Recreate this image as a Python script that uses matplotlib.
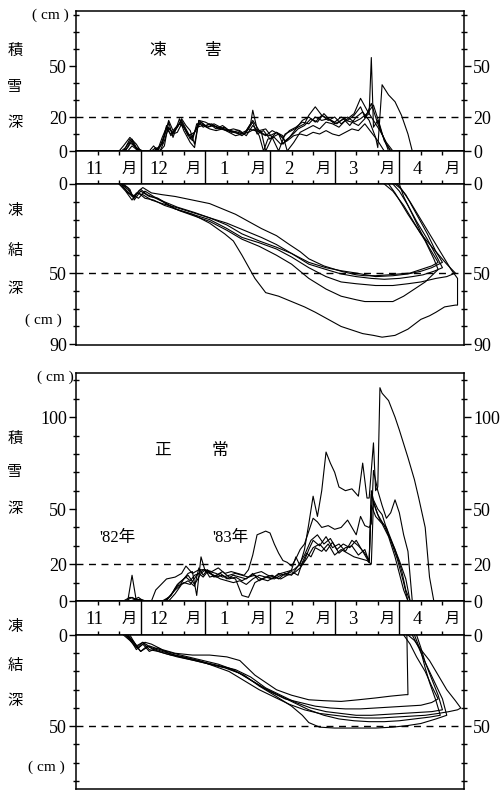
import numpy as np
import matplotlib.pyplot as plt

plt.rcParams['font.family'] = ['Liberation Serif', 'Noto Sans CJK JP']

# x axis: days from 1 Nov, each month drawn as 30 days (3 decades)
months = ['11', '12', '1', '2', '3', '4']

# ---- 凍害 (frost damage) : snow depth, cm ----
snow_harm_days = [
    [0, 20, 22, 25, 28, 30, 34, 36, 38, 40, 42, 44, 46, 49, 51, 54, 56, 58, 61, 64, 67, 70, 73, 76, 79, 81, 82, 84, 87, 90,
     93, 96, 99, 102, 105, 108, 111, 114, 117, 120, 123, 126, 129, 132, 134, 136, 137, 138, 140, 142, 144, 146, 180],
    [0, 21, 23, 25, 27, 29, 35, 37, 39, 41, 43, 45, 48, 50, 53, 55, 57, 60, 63, 66, 69, 72, 75, 78, 80, 83, 86, 88, 91, 94,
     97, 100, 103, 106, 109, 112, 115, 118, 121, 124, 127, 130, 133, 136, 139, 140, 142, 145, 148, 151, 154, 156, 180],
    [0, 22, 24, 26, 28, 31, 39, 41, 43, 45, 47, 49, 52, 54, 56, 59, 62, 65, 68, 71, 74, 77, 80, 83, 85, 87, 89, 92, 95, 98,
     101, 104, 107, 110, 113, 116, 119, 122, 125, 128, 131, 134, 137, 140, 143, 180],
    [0, 23, 25, 27, 30, 36, 38, 40, 42, 44, 47, 49, 51, 53, 55, 57, 60, 63, 66, 69, 72, 75, 78, 80, 82, 85, 88, 91, 94, 97,
     100, 103, 106, 108, 111, 114, 117, 120, 123, 126, 129, 132, 135, 138, 141, 144, 147, 180],
    [0, 24, 26, 29, 36, 38, 40, 42, 45, 48, 50, 52, 55, 57, 59, 62, 65, 68, 71, 74, 77, 79, 82, 84, 87, 90, 93, 96, 98, 101,
     104, 107, 110, 113, 116, 119, 122, 125, 128, 131, 134, 137, 140, 143, 145, 180],
    [0, 22, 24, 26, 28, 30, 37, 39, 41, 43, 45, 47, 49, 51, 53, 56, 58, 61, 64, 67, 70, 73, 76, 79, 82, 85, 88, 91, 94, 96,
     99, 102, 105, 108, 111, 114, 117, 120, 123, 126, 129, 132, 135, 138, 141, 143, 146, 180],
]
snow_harm_cm = [
    [0, 0, 3, 8, 4, 0, 0, 3, 0, 5, 15, 9, 12, 18, 13, 6, 16, 16, 14, 15, 13, 12, 11, 10, 12, 16, 24, 13, 10, 9,
     11, 8, 12, 14, 17, 16, 20, 18, 19, 17, 20, 18, 21, 26, 20, 22, 55, 14, 18, 10, 4, 0, 0],
    [0, 0, 2, 7, 3, 0, 0, 2, 0, 3, 17, 8, 19, 12, 5, 2, 18, 15, 16, 13, 14, 11, 12, 10, 13, 12, 11, 0, 8, 10,
     6, 9, 13, 15, 19, 17, 22, 18, 16, 19, 15, 20, 23, 18, 8, 2, 39, 33, 29, 21, 10, 0, 0],
    [0, 0, 4, 7, 2, 0, 0, 6, 14, 10, 11, 16, 10, 8, 14, 15, 13, 12, 13, 11, 9, 10, 11, 13, 9, 0, 7, 8, 4, 6,
     9, 10, 9, 11, 10, 12, 10, 9, 11, 13, 12, 16, 11, 6, 0, 0],
    [0, 0, 5, 3, 0, 0, 2, 4, 13, 10, 14, 19, 15, 12, 4, 18, 17, 15, 14, 13, 12, 11, 10, 14, 18, 12, 13, 8, 0, 10,
     12, 14, 16, 21, 26, 21, 18, 20, 16, 19, 22, 31, 24, 18, 12, 5, 0, 0],
    [0, 0, 3, 0, 0, 1, 8, 14, 11, 16, 14, 9, 11, 17, 14, 16, 13, 15, 12, 11, 9, 11, 17, 10, 12, 7, 11, 9, 0, 5,
     11, 13, 15, 13, 17, 16, 14, 18, 17, 15, 19, 28, 16, 7, 0, 0],
    [0, 0, 2, 6, 1, 0, 0, 3, 9, 18, 12, 15, 17, 12, 7, 13, 17, 14, 16, 14, 12, 13, 12, 9, 15, 11, 9, 12, 10, 4,
     8, 13, 18, 20, 17, 21, 19, 16, 18, 20, 17, 19, 22, 27, 15, 6, 0, 0],
]

# ---- 凍害 : frost depth, cm (freezing front, then thaw line back to surface) ----
frost_harm_days = [
    [21, 24, 27, 29, 31, 35, 40, 46, 54, 62, 68, 74, 80, 86, 93, 99, 104, 108, 115, 123, 130, 134, 139, 145, 150, 155, 160,
     165, 168, 164, 160, 156, 152, 150],
    [20, 23, 26, 28, 31, 35, 40, 46, 54, 62, 70, 77, 85, 93, 100, 108, 116, 123, 130, 139, 147, 154, 160, 165, 170,
     167, 163, 158, 153, 149],
    [21, 24, 27, 30, 33, 37, 42, 46, 54, 62, 70, 77, 85, 93, 100, 108, 116, 123, 130, 139, 147, 154, 160, 167, 172, 176,
     172, 167, 160, 154, 148, 145],
    [22, 25, 27, 30, 34, 38, 43, 48, 55, 62, 70, 77, 85, 93, 100, 108, 116, 123, 130, 134, 140, 147, 152, 157, 162, 165, 168,
     166, 162, 157, 152, 147, 143],
    [20, 23, 26, 29, 32, 36, 41, 46, 54, 62, 69, 73, 77, 83, 88, 94, 100, 106, 111, 117, 123, 128, 133, 138, 142, 148, 154,
     160, 164, 167, 171, 176, 177, 177, 174, 170, 165, 160, 155, 151, 148],
    [21, 24, 26, 29, 32, 36, 41, 47, 55, 62, 70, 78, 86, 93, 100, 108, 116, 123, 130, 137, 143, 150, 156, 161, 166, 170,
     167, 163, 158, 154, 150, 147],
]
frost_harm_cm = [
    [0, 3, 8, 4, 2, 5, 6, 7, 9, 11, 14, 17, 21, 25, 29, 34, 38, 42, 46, 49, 51, 51.5, 51.5, 51, 50.5, 50, 48,
     46, 44, 36, 27, 17, 7, 0],
    [0, 4, 9, 5, 6, 9, 11, 13, 16, 19, 23, 28, 32, 35.5, 39, 44, 47, 48.7, 50, 52, 51.5, 50.5, 49, 47, 44,
     38, 28, 17, 6, 0],
    [0, 5, 7, 3, 6, 8, 11, 14, 17, 20, 25, 30, 33, 36.5, 41, 47, 52, 55, 56, 57, 57, 56, 55, 53, 52, 50,
     45, 38, 28, 17, 5, 0],
    [0, 3, 9, 4, 7, 8, 12, 15, 18, 21, 26, 31, 35, 40, 45, 53, 59, 63, 65, 66, 66, 66, 63, 59, 55, 51.5, 48,
     42, 32, 22, 12, 4, 0],
    [0, 3, 7, 5, 8, 9, 12, 14, 17, 22, 28, 32, 40, 53, 61, 63, 66, 69, 72, 76, 80, 82, 84, 85, 86, 85, 81.5,
     76, 74, 72, 69, 68, 68, 53, 48, 40, 30, 20, 10, 3, 0],
    [0, 2, 6, 8, 4, 7, 10, 13, 16, 19, 22, 26, 30, 34, 39, 45, 48, 50.5, 52, 53, 53.5, 53, 52, 51, 49, 47,
     40, 31, 21, 12, 4, 0],
]

# ---- 正常 (normal) : snow depth, cm ----
snow_norm_days = [
    [0, 22, 25, 28, 33, 37, 41, 44, 47, 50, 53, 56, 59, 62, 65, 68, 71, 74, 77, 80, 83, 86, 89, 92, 95, 98, 101, 104, 106,
     108, 110, 112, 114, 116, 118, 120, 122, 125, 128, 131, 133, 135, 136, 138, 139, 140, 141, 142, 145, 148, 150, 154,
     157, 159, 162, 164, 166, 180],
    [0, 24, 26, 28, 35, 37, 42, 46, 49, 51, 54, 57, 60, 63, 66, 69, 72, 75, 78, 80, 82, 84, 86, 88, 90, 92, 94, 96, 98,
     100, 102, 104, 106, 108, 110, 112, 114, 117, 120, 123, 126, 128, 130, 132, 134, 136, 137, 138, 140, 142, 144, 146,
     148, 150, 152, 154, 156, 180],
    [0, 23, 26, 29, 33, 41, 44, 46, 48, 50, 52, 54, 56, 58, 60, 62, 65, 68, 71, 74, 77, 80, 83, 86, 89, 92, 95, 98, 100,
     102, 104, 106, 108, 110, 113, 116, 119, 122, 125, 128, 131, 134, 136, 137, 138, 140, 142, 145, 148, 151, 153, 155, 180],
    [0, 25, 28, 30, 42, 45, 47, 49, 51, 53, 55, 57, 59, 61, 64, 67, 70, 73, 76, 79, 82, 85, 88, 91, 94, 97, 100, 103, 105,
     107, 109, 111, 114, 117, 120, 123, 126, 129, 132, 135, 137, 138, 140, 143, 146, 149, 152, 154, 180],
    [0, 26, 29, 31, 40, 43, 46, 48, 50, 52, 55, 58, 60, 62, 65, 68, 71, 74, 77, 80, 83, 86, 89, 92, 95, 98, 101, 104, 107,
     110, 113, 116, 119, 122, 125, 128, 131, 134, 136, 137, 139, 141, 144, 147, 150, 153, 155, 180],
    [0, 27, 30, 32, 43, 46, 49, 52, 55, 57, 59, 61, 64, 67, 70, 73, 76, 79, 82, 85, 88, 91, 94, 97, 100, 103, 106, 109,
     112, 115, 118, 121, 124, 127, 130, 133, 136, 137, 139, 142, 145, 148, 150, 152, 154, 180],
]
snow_norm_cm = [
    [0, 0, 2, 1, 0, 0, 0, 3, 8, 10, 9, 14, 17, 16, 15, 13, 14, 15, 14, 13, 15, 16, 14, 13, 15, 16, 17, 20, 28,
     42, 57, 46, 60, 81, 75, 70, 62, 60, 61, 57, 75, 56, 56, 86, 60, 62, 116, 113, 109, 100, 93, 78,
     66, 56, 40, 13, 0, 0],
    [0, 0, 14, 0, 0, 6, 12, 13, 15, 19, 15, 17, 17, 16, 18, 15, 16, 15, 14, 17, 25, 36, 37, 38, 37, 31, 26, 22, 21,
     19, 23, 28, 31, 38, 45, 43, 40, 41, 39, 40, 44, 40, 36, 46, 41, 40, 42, 71, 60, 52, 45, 48,
     55, 48, 36, 27, 0, 0],
    [0, 0, 2, 0, 0, 0, 3, 7, 10, 12, 15, 16, 3, 24, 16, 15, 13, 14, 12, 13, 11, 13, 14, 12, 13, 12, 14, 15, 17,
     24, 19, 22, 28, 33, 30, 35, 29, 31, 27, 33, 30, 26, 22, 60, 55, 50, 47, 36, 28, 17, 6, 0, 0],
    [0, 0, 1, 0, 0, 5, 9, 11, 13, 11, 14, 15, 13, 16, 14, 12, 11, 10, 11, 9, 12, 14, 13, 12, 15, 14, 16, 14, 21,
     26, 24, 29, 27, 31, 25, 28, 26, 24, 23, 22, 20, 54, 47, 41, 33, 23, 10, 0, 0],
    [0, 0, 2, 0, 0, 2, 6, 8, 12, 14, 9, 15, 17, 13, 14, 16, 13, 12, 3, 2, 10, 12, 11, 13, 12, 14, 15, 18, 23,
     29, 31, 27, 32, 26, 29, 30, 25, 28, 21, 58, 50, 44, 40, 31, 22, 12, 0, 0],
    [0, 0, 1, 0, 0, 4, 9, 11, 8, 18, 14, 17, 13, 15, 12, 14, 13, 12, 15, 11, 13, 14, 12, 15, 14, 19, 25, 33,
     36, 31, 34, 28, 31, 29, 33, 27, 21, 52, 46, 42, 35, 24, 15, 6, 0, 0],
]

# ---- 正常 : frost depth, cm ----
frost_norm_days = [
    [23, 26, 29, 32, 35, 40, 46, 54, 62, 70, 76, 83, 88, 93, 100, 108, 115, 123, 131, 139, 146, 153, 154, 153.5],
    [23, 26, 28, 31, 34, 38, 43, 48, 55, 62, 69, 76, 83, 90, 97, 104, 111, 118, 125, 132, 139, 146, 153, 160, 165, 168,
     165, 162, 158, 155, 152],
    [24, 27, 30, 33, 36, 41, 47, 55, 62, 70, 78, 85, 92, 100, 105, 108, 113, 120, 130, 139, 147, 154, 160, 167, 172,
     170, 166, 162, 159, 156],
    [22, 25, 28, 31, 34, 38, 44, 50, 57, 64, 71, 78, 85, 92, 99, 106, 113, 120, 127, 134, 141, 148, 155, 162, 168, 173,
     177, 178.5, 176, 172, 168, 164, 160, 157, 154],
    [25, 28, 31, 35, 40, 46, 53, 60, 67, 74, 81, 88, 95, 102, 109, 116, 123, 130, 137, 144, 151, 158, 165, 170,
     168, 165, 162, 160, 158],
    [24, 27, 30, 34, 39, 45, 52, 59, 66, 73, 80, 87, 94, 101, 108, 115, 122, 129, 136, 143, 150, 157, 164, 169,
     167, 164, 162, 160, 157],
]
frost_norm_cm = [
    [0, 3, 7, 4, 5, 8, 10, 11, 11, 12, 14, 22, 26, 30, 33, 35.5, 36, 36.4, 35.5, 34.5, 33.5, 32.7, 32.7, 0],
    [0, 4, 8, 5, 9, 7, 10, 12, 14, 16, 18, 21, 26, 31, 35, 37, 39, 40, 40.5, 40.5, 40, 39.5, 39, 38.5, 37, 35,
     28, 20, 12, 5, 0],
    [0, 5, 9, 6, 8, 10, 12, 14, 16, 18, 22, 28, 33, 39, 44, 48, 50.5, 51, 51, 51, 50.5, 49.6, 48.5, 46, 44,
     35, 25, 15, 7, 0],
    [0, 3, 7, 4, 8, 9, 11, 12, 14, 17, 20, 25, 30, 34, 38, 41, 43, 44, 45, 45.5, 45.5, 45, 44.5, 44, 43, 42,
     41, 40, 36, 30, 22, 14, 8, 3, 0],
    [0, 6, 4, 7, 9, 11, 13, 15, 17, 19, 23, 29, 33, 37, 40, 42, 43, 44, 44, 43.5, 43, 42.5, 42, 41,
     33, 24, 15, 7, 0],
    [0, 4, 9, 6, 8, 10, 12, 14, 16, 19, 24, 29, 33, 37, 41, 44, 46, 47, 47.5, 47.5, 47, 46, 45, 44,
     36, 26, 18, 9, 0],
]

W, H = 500, 794
fig = plt.figure(figsize=(W / 100, H / 100), dpi=100)
L, R = 76, 464
num_font = 'Liberation Serif'
jp_font = ['Noto Sans CJK JP', 'DejaVu Sans']


def px_axes(top, bottom):
    return fig.add_axes([L / W, 1 - bottom / H, (R - L) / W, (bottom - top) / H])


def ftext(x, y, s, size=11, family=None):
    fig.text(x / W, 1 - y / H, s, ha='center', va='center', fontsize=size,
             family=family or jp_font)


def style_depth_axis(ax, major, top_val, minor_max, dash_at, invert=False):
    ax.set_xlim(0, 180)
    if invert:
        ax.set_ylim(top_val, 0)
    else:
        ax.set_ylim(0, top_val)
    ax.set_yticks(major)
    ax.set_yticks(np.arange(0, minor_max + 1, 10), minor=True)
    ax.set_yticklabels([str(v) for v in major], family=num_font, fontsize=13)
    ax.tick_params(axis='y', which='major', direction='out', length=5, width=1,
                   left=True, right=True, labelleft=True, labelright=True, pad=1.5)
    ax.tick_params(axis='y', which='minor', direction='inout', length=5, width=1,
                   left=True, right=True)
    ax.tick_params(axis='x', which='both', bottom=False, top=False, labelbottom=False)
    ax.axhline(dash_at, color='black', lw=1.0, ls=(0, (5, 4)))
    for s in ax.spines.values():
        s.set_linewidth(1.1)


def month_band(ax):
    ax.set_xlim(0, 180)
    ax.set_ylim(0, 1)
    ax.set_yticks([])
    dec = [m * 30 + d for m in range(6) for d in (10, 20)]
    ax.set_xticks(dec)
    ax.tick_params(axis='x', direction='in', length=3, width=1, top=True, bottom=True,
                   labelbottom=False)
    for m in range(1, 6):
        ax.axvline(m * 30, color='black', lw=1.0)
    for m, name in enumerate(months):
        ax.text(m * 30 + 8.5, 0.45, name, ha='center', va='center', fontsize=13.5, family=num_font)
        ax.text(m * 30 + 24.5, 0.48, '月', ha='center', va='center', fontsize=11, family=jp_font)
    for s in ax.spines.values():
        s.set_linewidth(1.1)


# ---------- top block: 凍害 ----------
ax_s1 = px_axes(11, 151)
for d, v in zip(snow_harm_days, snow_harm_cm):
    ax_s1.plot(d, v, color='black', lw=0.8)
style_depth_axis(ax_s1, [0, 20, 50], 82.4, 80, 20)

ax_b1 = px_axes(151, 184)
month_band(ax_b1)

ax_f1 = px_axes(184, 345)
for d, v in zip(frost_harm_days, frost_harm_cm):
    ax_f1.plot(d, v, color='black', lw=0.8)
style_depth_axis(ax_f1, [0, 50, 90], 90.4, 90, 50, invert=True)

# ---------- bottom block: 正常 ----------
ax_s2 = px_axes(373, 601)
for d, v in zip(snow_norm_days, snow_norm_cm):
    ax_s2.plot(d, v, color='black', lw=0.8)
style_depth_axis(ax_s2, [0, 20, 50, 100], 124, 120, 20)

ax_b2 = px_axes(601, 635)
month_band(ax_b2)

ax_f2 = px_axes(635, 789)
for d, v in zip(frost_norm_days, frost_norm_cm):
    ax_f2.plot(d, v, color='black', lw=0.8)
style_depth_axis(ax_f2, [0, 50], 84.4, 80, 50, invert=True)

# ---------- labels ----------
ftext(50, 15, '( cm )', size=11, family=num_font)
ftext(15, 50, '積')
ftext(15, 87, '雪')
ftext(15, 123, '深')
ftext(158, 51, '凍', size=12)
ftext(213, 51, '害', size=12)
ftext(15, 210, '凍')
ftext(15, 250, '結')
ftext(15, 288, '深')
ftext(43, 320, '( cm )', size=11, family=num_font)

ftext(55, 377, '( cm )', size=11, family=num_font)
ftext(15, 438, '積')
ftext(15, 472, '雪')
ftext(15, 508, '深')
ftext(162, 450, '正', size=12)
ftext(220, 450, '常', size=12)
ftext(117, 538, "'82年", size=12, family=[num_font, 'Noto Sans CJK JP'])
ftext(230, 538, "'83年", size=12, family=[num_font, 'Noto Sans CJK JP'])
ftext(15, 627, '凍')
ftext(15, 665, '結')
ftext(15, 700, '深')
ftext(46, 767, '( cm )', size=11, family=num_font)

fig.savefig('out.png', dpi=100, facecolor='white')
